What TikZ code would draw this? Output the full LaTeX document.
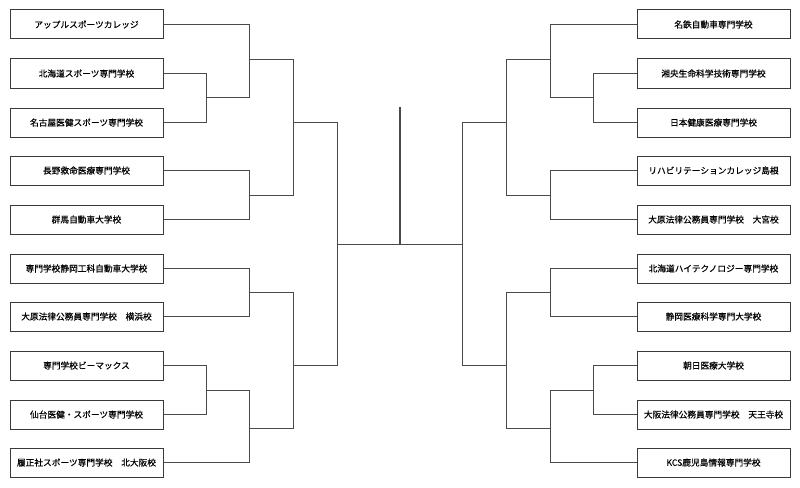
\documentclass[tikz,border=0pt]{standalone}
\usepackage{fontspec}
\newfontfamily\jp[FakeBold=0.4]{Noto Sans CJK JP}
\definecolor{linegray}{HTML}{4A4A4A}
\definecolor{boxgray}{HTML}{3A3A3A}
\begin{document}
\begin{tikzpicture}[x=1pt,y=-1pt,
  team/.style={draw=boxgray,line width=1pt,minimum width=153pt,minimum height=29pt,inner sep=0pt,font=\jp\fontsize{8.7}{10}\selectfont,text=black},
  link/.style={draw=linegray,line width=1.1pt}]
\useasboundingbox (0,0) rectangle (800,487);
% left teams
\node[team] (L1) at (86.5,24.5) {アップルスポーツカレッジ};
\node[team] (L2) at (86.5,73.5) {北海道スポーツ専門学校};
\node[team] (L3) at (86.5,122.5) {名古屋医健スポーツ専門学校};
\node[team] (L4) at (86.5,170.5) {長野救命医療専門学校};
\node[team] (L5) at (86.5,219.5) {群馬自動車大学校};
\node[team] (L6) at (86.5,268.5) {専門学校静岡工科自動車大学校};
\node[team] (L7) at (86.5,316.5) {大原法律公務員専門学校　横浜校};
\node[team] (L8) at (86.5,365.5) {専門学校ビーマックス};
\node[team] (L9) at (86.5,414.5) {仙台医健・スポーツ専門学校};
\node[team] (L10) at (86.5,462.5) {履正社スポーツ専門学校　北大阪校};
% right teams
\node[team] (R1) at (713.5,24.5) {名鉄自動車専門学校};
\node[team] (R2) at (713.5,73.5) {湘央生命科学技術専門学校};
\node[team] (R3) at (713.5,122.5) {日本健康医療専門学校};
\node[team] (R4) at (713.5,170.5) {リハビリテーションカレッジ島根};
\node[team] (R5) at (713.5,219.5) {大原法律公務員専門学校　大宮校};
\node[team] (R6) at (713.5,268.5) {北海道ハイテクノロジー専門学校};
\node[team] (R7) at (713.5,316.5) {静岡医療科学専門大学校};
\node[team] (R8) at (713.5,365.5) {朝日医療大学校};
\node[team] (R9) at (713.5,414.5) {大阪法律公務員専門学校　天王寺校};
\node[team] (R10) at (713.5,462.5) {KCS鹿児島情報専門学校};
% left junctions
\coordinate (la) at (206.5,97.5);
\coordinate (lb) at (249.5,59.5);
\coordinate (lc) at (249.5,195.5);
\coordinate (ld) at (293.5,122.5);
\coordinate (le) at (249.5,292.5);
\coordinate (lf) at (206.5,390.5);
\coordinate (lg) at (249.5,428.5);
\coordinate (lh) at (293.5,365.5);
\coordinate (li) at (337.5,244.5);
% right junctions
\coordinate (ra) at (593.5,97.5);
\coordinate (rb) at (550.5,59.5);
\coordinate (rc) at (550.5,195.5);
\coordinate (rd) at (506.5,122.5);
\coordinate (re) at (550.5,292.5);
\coordinate (rf) at (593.5,390.5);
\coordinate (rg) at (550.5,428.5);
\coordinate (rh) at (506.5,365.5);
\coordinate (ri) at (462.5,244.5);
\coordinate (cc) at (400,244.5);
\coordinate (ctop) at (400,107);
% left bracket
\draw[link] (L2.east) -| (la) |- (L3.east);
\draw[link] (L1.east) -| (lb) |- (la);
\draw[link] (L4.east) -| (lc) |- (L5.east);
\draw[link] (lb) -| (ld) |- (lc);
\draw[link] (L6.east) -| (le) |- (L7.east);
\draw[link] (L8.east) -| (lf) |- (L9.east);
\draw[link] (lf) -| (lg) |- (L10.east);
\draw[link] (le) -| (lh) |- (lg);
\draw[link] (ld) -| (li) |- (lh);
% right bracket
\draw[link] (R2.west) -| (ra) |- (R3.west);
\draw[link] (R1.west) -| (rb) |- (ra);
\draw[link] (R4.west) -| (rc) |- (R5.west);
\draw[link] (rb) -| (rd) |- (rc);
\draw[link] (R6.west) -| (re) |- (R7.west);
\draw[link] (R8.west) -| (rf) |- (R9.west);
\draw[link] (rf) -| (rg) |- (R10.west);
\draw[link] (re) -| (rh) |- (rg);
\draw[link] (rd) -| (ri) |- (rh);
% final
\draw[link] (li) -- (ri);
\draw[link] (cc) -- (ctop);
\end{tikzpicture}
\end{document}
